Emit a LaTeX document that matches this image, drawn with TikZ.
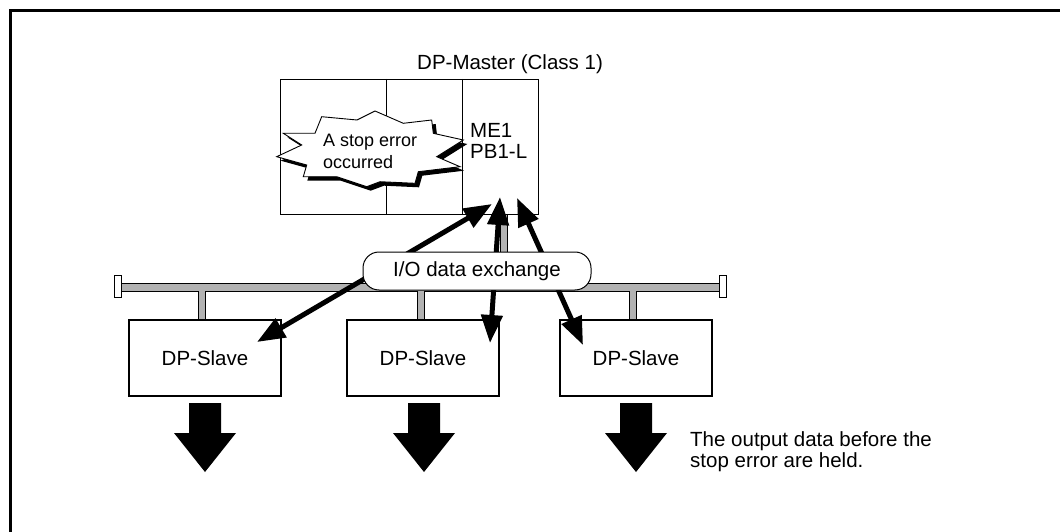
\documentclass[tikz,border=0pt]{standalone}
\usepackage{fontspec}
\setmainfont{Liberation Sans}
\usetikzlibrary{arrows.meta}
\begin{document}
\begin{tikzpicture}[x=1pt,y=-1pt,
  txt/.style={font=\fontsize{20.5}{21}\selectfont, inner sep=0pt},
  slavebox/.style={draw, fill=white, line width=1.2pt, minimum width=152pt, minimum height=76pt, inner sep=0pt, txt},
  ioarrow/.style={line width=5pt, {Triangle[length=28pt,width=21pt]}-{Triangle[length=28pt,width=21pt]}},
  busfill/.style={fill=black!30, draw=black, line width=0.8pt},
  outarrow/.style={fill=black},
]
\useasboundingbox (0,0) rectangle (1060,532);
% frame
\draw[line width=3pt] (10,532) -- (10,11) -- (1060,11);

% master
\node[draw, line width=1pt, minimum width=257.7pt, minimum height=135pt, inner sep=0pt, anchor=north west] (master) at (280,79) {};
\draw[line width=1pt] (386,79) -- (386,214);
\draw[line width=1pt] (462,79) -- (462,214);
\node[txt, anchor=base west] (title) at (417,70) {DP-Master (Class 1)};
\node[txt, align=left, anchor=north west] (me) at (470,123.6) {ME1\\PB1-L};

% starburst shadow
\fill[black] (379,115) -- (361,124) -- (325.7,120.7) -- (319,137.3) -- (287.3,137.3) -- (305.7,149) -- (280.7,160.7) -- (310.7,169) -- (307.3,180.7) -- (340.7,180.7) -- (370.7,190.7) -- (384,185.7) -- (419,187.3) -- (422.3,175.7) -- (464,170.7) -- (440.7,160.7) -- (467.3,144) -- (437.3,137.3) -- (435.7,124) -- (407.3,127.3) -- cycle;
% starburst
\draw[fill=white, line width=0.9pt] (375,111) -- (357,120) -- (321.7,116.7) -- (315,133.3) -- (283.3,133.3) -- (301.7,145) -- (276.7,156.7) -- (306.7,165) -- (303.3,176.7) -- (336.7,176.7) -- (366.7,186.7) -- (380,181.7) -- (415,183.3) -- (418.3,171.7) -- (460,166.7) -- (436.7,156.7) -- (463.3,140) -- (433.3,133.3) -- (431.7,120) -- (403.3,123.3) -- cycle;
\node[font=\fontsize{18}{22.6}\selectfont, inner sep=0pt, align=left, anchor=north west] (err) at (323,133.8) {A stop error\\occurred};

% bus
\path[busfill] (121,283) -- (500,283) -- (500,214) -- (507,214) -- (507,283) -- (719,283) -- (719,291) -- (636,291) -- (636,320) -- (629,320) -- (629,291) -- (424,291) -- (424,320) -- (417,320) -- (417,291) -- (205,291) -- (205,320) -- (198,320) -- (198,291) -- (121,291) -- cycle;
\draw[fill=white, line width=0.8pt] (114,275) rectangle (121.7,297.7);
\draw[fill=white, line width=0.8pt] (719,275) rectangle (726.7,297.7);

% slaves
\node[slavebox] (s1) at (205,358) {DP-Slave};
\node[slavebox] (s2) at (423,358) {DP-Slave};
\node[slavebox] (s3) at (636,358) {DP-Slave};

% I/O arrows
\coordinate (m1) at (492,204);
\coordinate (m2) at (500,197);
\coordinate (m3) at (517,198);
\coordinate (e1) at (257,342);
\coordinate (e2) at (490,343);
\coordinate (e3) at (583,345);
\draw[ioarrow] (m1) -- (e1);
\draw[ioarrow] (m2) -- (e2);
\draw[ioarrow] (m3) -- (e3);

\node[draw, fill=white, rounded corners=16pt, minimum width=228pt, minimum height=38pt, line width=1pt, txt] (io) at (477,271) {I/O data exchange};

% output arrows
\foreach \c in {205,424,636}
  \fill[outarrow] (\c-16,403) -- (\c+16,403) -- (\c+16,433) -- (\c+31,433) -- (\c,472) -- (\c-31,433) -- (\c-16,433) -- cycle;

\node[txt, align=left, anchor=north west] (note) at (690,431) {The output data before the\\stop error are held.};
\end{tikzpicture}
\end{document}
